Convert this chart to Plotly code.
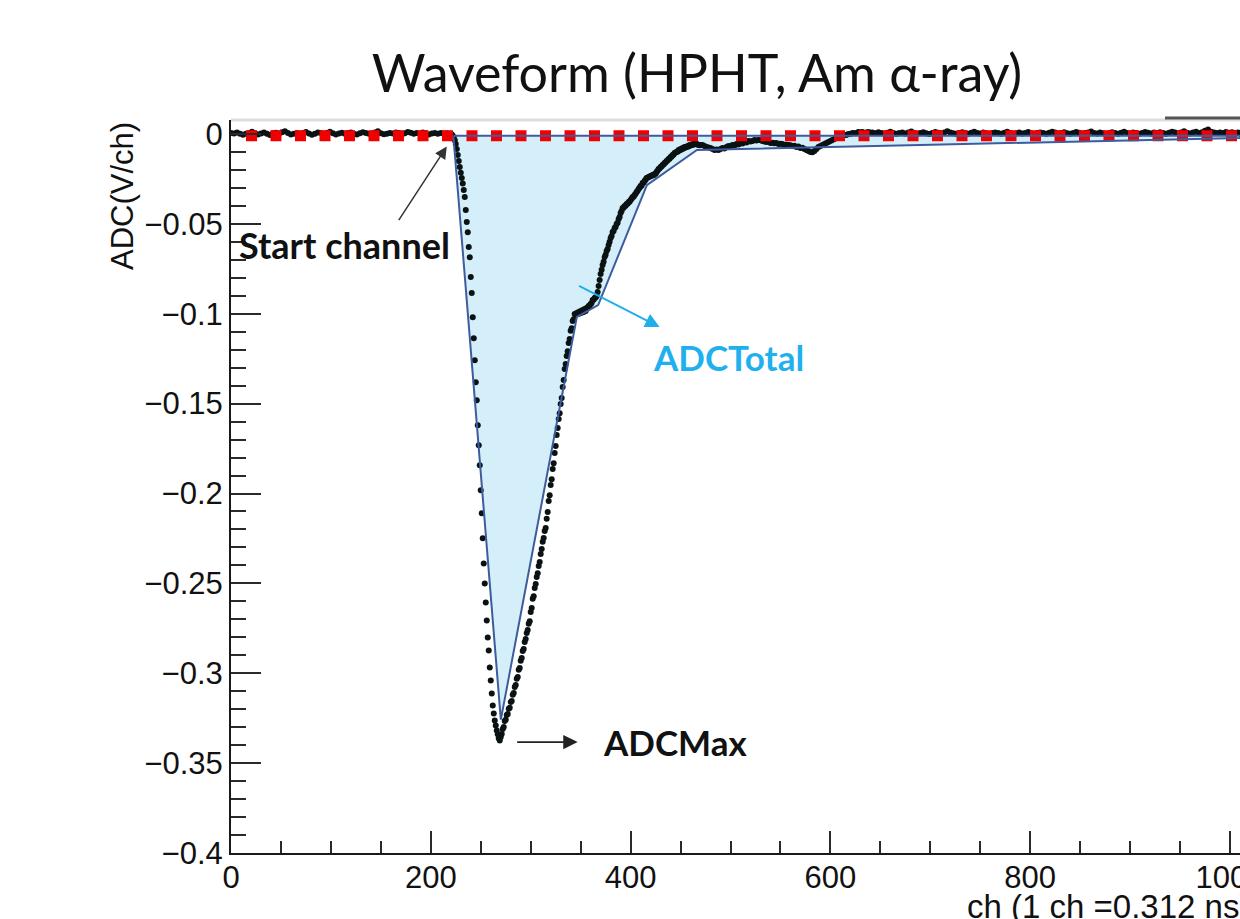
import plotly.graph_objects as go

# ---------------- data ----------------
# waveform samples (V), baseline region: every 3rd channel starting at ch 0
base_step = 3
base_v = [0.0005, 0.0003, 0.0008, 0.0002, -0.0004, 0.0001, 0.0006, 0.0012, 0.0004, -0.0002,
          0.0003, 0.0009, 0.0001, -0.0005, 0.0004, 0.0007, 0.0002, 0.0010, 0.0016, 0.0005,
          -0.0003, 0.0002, 0.0006, 0.0001, 0.0004, 0.0011, 0.0003, -0.0004, 0.0002, 0.0008,
          0.0005, 0.0000, 0.0006, 0.0013, 0.0004, -0.0002, 0.0003, 0.0007, 0.0001, 0.0005,
          0.0009, 0.0002, -0.0003, 0.0004, 0.0010, 0.0006, 0.0001, 0.0003, 0.0008, 0.0015,
          0.0004, -0.0001, 0.0002, 0.0006, 0.0003, 0.0009, 0.0005, -0.0002, 0.0004, 0.0011,
          0.0007, 0.0002, 0.0005, 0.0001, 0.0008, 0.0004, -0.0003, 0.0003, 0.0006, 0.0002,
          0.0005, 0.0001, 0.0004, 0.0002]

# pulse region: every channel starting at ch 220
pulse_start = 220
pulse_v = [0.0002, -0.0003, -0.0010, -0.0020, -0.0035, -0.0056, -0.0084, -0.0117, -0.0150, -0.0184,
           -0.0215, -0.0245, -0.0275, -0.0312, -0.0351, -0.0423, -0.0490, -0.0546, -0.0629, -0.0685,
           -0.0796, -0.0885, -0.1019, -0.1136, -0.1258, -0.1381, -0.1481, -0.1620, -0.1732, -0.1843,
           -0.1982, -0.2110, -0.2249, -0.2389, -0.2500, -0.2606, -0.2706, -0.2801, -0.2873, -0.2968,
           -0.3040, -0.3112, -0.3179, -0.3224, -0.3263, -0.3291, -0.3318, -0.3340, -0.3362, -0.3374,
           # ch 270
           -0.3354, -0.3338, -0.3310, -0.3299, -0.3265, -0.3258, -0.3232, -0.3226, -0.3198, -0.3192,
           -0.3160, -0.3155, -0.3120, -0.3110, -0.3076, -0.3066, -0.3031, -0.3021, -0.2981, -0.2971,
           -0.2931, -0.2915, -0.2876, -0.2865, -0.2826, -0.2810, -0.2776, -0.2760, -0.2725, -0.2710,
           -0.2659, -0.2637, -0.2586, -0.2571, -0.2525, -0.2504, -0.2464, -0.2443, -0.2403, -0.2381,
           -0.2336, -0.2309, -0.2269, -0.2248, -0.2208, -0.2192, -0.2141, -0.2103, -0.2041, -0.2009,
           # ch 320
           -0.1952, -0.1920, -0.1863, -0.1831, -0.1774, -0.1736, -0.1674, -0.1636, -0.1585, -0.1553,
           -0.1502, -0.1469, -0.1407, -0.1369, -0.1307, -0.1280, -0.1235, -0.1208, -0.1162, -0.1141,
           -0.1095, -0.1080, -0.1040, -0.1030, -0.1001, -0.1007, -0.0996, -0.1002, -0.0990, -0.0999,
           -0.0985, -0.0995, -0.0979, -0.0990, -0.0974, -0.0984, -0.0968, -0.0967, -0.0957, -0.0956,
           -0.0946, -0.0940, -0.0923, -0.0922, -0.0912, -0.0910, -0.0901, -0.0879, -0.0846, -0.0812,
           # ch 370
           -0.0779, -0.0755, -0.0729, -0.0711, -0.0684, -0.0672, -0.0651, -0.0639, -0.0618, -0.0599,
           -0.0579, -0.0567, -0.0545, -0.0539, -0.0523, -0.0517, -0.0501, -0.0494, -0.0473, -0.0461,
           -0.0439, -0.0428, -0.0412, -0.0410, -0.0401, -0.0399, -0.0389, -0.0388, -0.0378, -0.0377,
           -0.0367, -0.0360, -0.0350, -0.0349, -0.0339, -0.0332, -0.0323, -0.0316, -0.0306, -0.0299,
           -0.0289, -0.0288, -0.0273, -0.0271, -0.0261, -0.0254, -0.0245, -0.0243, -0.0239, -0.0238,
           # ch 420
           -0.0234, -0.0232, -0.0228, -0.0230, -0.0223, -0.0221, -0.0211, -0.0204, -0.0195, -0.0192,
           -0.0184, -0.0181, -0.0172, -0.0170, -0.0161, -0.0159, -0.0150, -0.0148, -0.0139, -0.0137,
           -0.0128, -0.0126, -0.0117, -0.0115, -0.0106, -0.0103, -0.0100, -0.0098, -0.0089, -0.0092,
           -0.0083, -0.0086, -0.0078, -0.0080, -0.0072, -0.0075, -0.0072, -0.0067, -0.0070, -0.0061,
           -0.0064, -0.0061, -0.0056, -0.0059, -0.0056, -0.0053, -0.0056, -0.0058, -0.0061, -0.0063,
           -0.0061]

# tail region after the pulse: every 2nd channel starting at ch 472
tail_start, tail_step = 472, 2
tail_v = [-0.0061, -0.0067, -0.0072, -0.0075, -0.0078, -0.0083, -0.0089, -0.0086, -0.0089, -0.0083,
          -0.0078, -0.0081, -0.0072, -0.0067, -0.0070, -0.0061, -0.0064, -0.0056, -0.0058, -0.0050,
          -0.0053, -0.0045, -0.0047, -0.0039, -0.0042, -0.0039, -0.0033, -0.0036, -0.0033, -0.0035,
          -0.0039, -0.0041, -0.0045, -0.0043, -0.0050, -0.0048, -0.0052, -0.0050, -0.0056, -0.0054,
          -0.0056, -0.0061, -0.0059, -0.0061, -0.0063, -0.0067, -0.0065, -0.0072, -0.0070, -0.0078,
          -0.0076, -0.0083, -0.0089, -0.0095, -0.0100, -0.0102, -0.0095, -0.0083, -0.0072, -0.0067,
          -0.0061, -0.0056, -0.0050, -0.0045, -0.0039, -0.0033, -0.0028, -0.0022, -0.0017, -0.0017,
          -0.0011, -0.0006, -0.0006, 0.0000, 0.0000, 0.0006, 0.0004, 0.0006, 0.0011, 0.0008,
          0.0011, 0.0006, 0.0009, 0.0011, 0.0007]

# far tail: every 3rd channel starting at ch 642
far_start, far_step = 642, 3
far_v = [0.0008, 0.0004, 0.0010, 0.0006, 0.0002, 0.0007, 0.0012, 0.0005, 0.0001, 0.0006,
         0.0009, 0.0003, 0.0008, 0.0014, 0.0006, 0.0002, 0.0005, 0.0010, 0.0004, 0.0000,
         0.0006, 0.0011, 0.0007, 0.0003, 0.0008, 0.0016, 0.0009, 0.0004, 0.0001, 0.0006,
         0.0010, 0.0005, 0.0002, 0.0007, 0.0013, 0.0006, 0.0003, 0.0008, 0.0004, -0.0001,
         0.0005, 0.0009, 0.0006, 0.0002, 0.0007, 0.0012, 0.0005, 0.0001, 0.0004, 0.0008,
         0.0003, 0.0006, 0.0011, 0.0004, 0.0000, 0.0005, 0.0009, 0.0006, 0.0002, 0.0007,
         0.0013, 0.0008, 0.0003, 0.0005, 0.0010, 0.0004, 0.0001, 0.0006, 0.0011, 0.0007,
         0.0002, 0.0005, 0.0009, 0.0014, 0.0006, 0.0003, 0.0008, 0.0004, 0.0000, 0.0006,
         0.0010, 0.0005, 0.0002, 0.0007, 0.0012, 0.0006, 0.0003, 0.0009, 0.0005, 0.0001,
         0.0006, 0.0011, 0.0007, 0.0003, 0.0008, 0.0004, 0.0010, 0.0006, 0.0002, 0.0007,
         0.0012, 0.0008, 0.0004, 0.0009, 0.0015, 0.0007, 0.0003, 0.0008, 0.0012, 0.0006,
         0.0010, 0.0018, 0.0025, 0.0012, 0.0008, 0.0006, 0.0009, 0.0005, 0.0011, 0.0007,
         0.0010, 0.0006, 0.0008]

# coarse ADCTotal outline (blue polygon)
total_ch = [222.6, 270.1, 346.2, 367.5, 416.3, 466.4, 690.0, 1010.0]
total_v = [-0.0010, -0.3258, -0.1017, -0.0952, -0.0284, -0.0089, -0.0061, -0.0022]
total_top = -0.0010

# baseline level (red dashed)
base_line_ch = [15, 1010]
base_line_v = [-0.0010, -0.0010]

# ---------------- build series ----------------
wf_x, wf_y = [], []
for i, v in enumerate(base_v):
    wf_x.append(i * base_step); wf_y.append(v)
for i, v in enumerate(pulse_v):
    wf_x.append(pulse_start + i); wf_y.append(v)
for i, v in enumerate(tail_v):
    wf_x.append(tail_start + i * tail_step); wf_y.append(v)
for i, v in enumerate(far_v):
    wf_x.append(far_start + i * far_step); wf_y.append(v)

poly_x = total_ch + [total_ch[-1], total_ch[0]]
poly_y = total_v + [total_top, total_top]

AX_FONT = "Liberation Sans, Arial, Helvetica, sans-serif"
ANN_FONT = "Lato, Carlito, Calibri, sans-serif"

# page body margin is removed below, so the figure fills the window exactly
W, H = 1240, 919
L, T, B = 231, 120, 66
PW = W - L
PH = H - T - B

fig = go.Figure()
fig.add_trace(go.Scatter(x=poly_x, y=poly_y, mode="lines", fill="toself",
                         fillcolor="#d5effa", line=dict(width=0), hoverinfo="skip"))
fig.add_trace(go.Scatter(x=wf_x, y=wf_y, mode="markers",
                         marker=dict(size=6, color="#0b1214"), hoverinfo="skip"))
fig.add_trace(go.Scatter(x=base_line_ch, y=base_line_v, mode="lines",
                         line=dict(color="#f00000", width=11, dash="11px,13.5px")))
fig.add_trace(go.Scatter(x=poly_x, y=poly_y, mode="lines",
                         line=dict(color="#3d5c9e", width=2)))

axis_common = dict(showgrid=False, zeroline=False, showline=True, linecolor="#1a1a1a",
                   linewidth=2, ticks="inside", tickcolor="#2a2a2a", tickwidth=2,
                   ticklabeloverflow="allow",
                   tickfont=dict(family=AX_FONT, size=31, color="#111"))
fig.update_xaxes(range=[0, 1010], tick0=0, dtick=200, ticklen=22, ticklabelstandoff=-4,
                 minor=dict(dtick=50, ticklen=12, ticks="inside", tickcolor="#2a2a2a", tickwidth=2),
                 **axis_common)
fig.update_yaxes(range=[-0.4, 0.0078], tick0=0, dtick=0.05, ticklen=30,
                 minor=dict(dtick=0.01, ticklen=15, ticks="inside", tickcolor="#2a2a2a", tickwidth=2),
                 **axis_common)

fig.update_layout(
    width=W, height=H, showlegend=False,
    margin=dict(l=L, r=0, t=T, b=B, autoexpand=False),
    plot_bgcolor="white", paper_bgcolor="white",
    title=dict(text="Waveform (HPHT, Am α-ray)", x=697 / W, xanchor="center",
               y=1 - 74 / H, yanchor="middle", yref="container",
               font=dict(family=ANN_FONT, size=52, color="#111")),
    shapes=[
        dict(type="line", xref="paper", yref="paper", x0=0, x1=1, y0=1, y1=1,
             line=dict(color="#dddddd", width=3)),
        dict(type="line", xref="paper", yref="paper", x0=(1165 - L) / PW, x1=1,
             y0=1 + 2 / PH, y1=1 + 2 / PH, line=dict(color="#555555", width=3)),
    ],
    annotations=[
        dict(text="ADC(V/ch)", textangle=-90, xref="paper", yref="paper",
             x=(122 - L) / PW, y=1, xanchor="center", yanchor="top", showarrow=False,
             font=dict(family=AX_FONT, size=31, color="#111")),
        dict(text="ch (1 ch =0.312 ns)", xref="paper", yref="paper",
             x=(965 - L) / PW, y=-(906 - 853) / PH, xanchor="left", yanchor="middle",
             showarrow=False, font=dict(family=AX_FONT, size=33, color="#111")),
        # arrows
        dict(x=216, y=-0.007, xref="x", yref="y", text="", showarrow=True,
             ax=-49, ay=75, arrowhead=2, arrowsize=1.6, arrowwidth=1.5, arrowcolor="#333"),
        dict(x=429, y=-0.1074, xref="x", yref="y", text="", showarrow=True,
             ax=-82, ay=-42, arrowhead=2, arrowsize=1.6, arrowwidth=1.8, arrowcolor="#1eaeea"),
        dict(x=347, y=-0.3383, xref="x", yref="y", text="", showarrow=True,
             ax=-62, ay=0, arrowhead=2, arrowsize=1.6, arrowwidth=1.8, arrowcolor="#222"),
        # labels
        dict(x=6, y=-0.0618, xref="x", yref="y", text="<b>Start channel</b>", showarrow=False,
             xanchor="left", yanchor="middle", font=dict(family=ANN_FONT, size=36, color="#111")),
        dict(x=420, y=-0.1241, xref="x", yref="y", text="<b>ADCTotal</b>", showarrow=False,
             xanchor="left", yanchor="middle", font=dict(family=ANN_FONT, size=35, color="#1fb0ee")),
        dict(x=370, y=-0.3383, xref="x", yref="y", text="<b>ADCMax</b>", showarrow=False,
             xanchor="left", yanchor="middle", font=dict(family=ANN_FONT, size=35, color="#111")),
    ],
)

fig.write_html("out.html", config={"displayModeBar": False},
               post_script="document.body.style.margin='0';"
                           "document.documentElement.style.overflow='hidden';"
                           "document.body.style.overflow='hidden';")
